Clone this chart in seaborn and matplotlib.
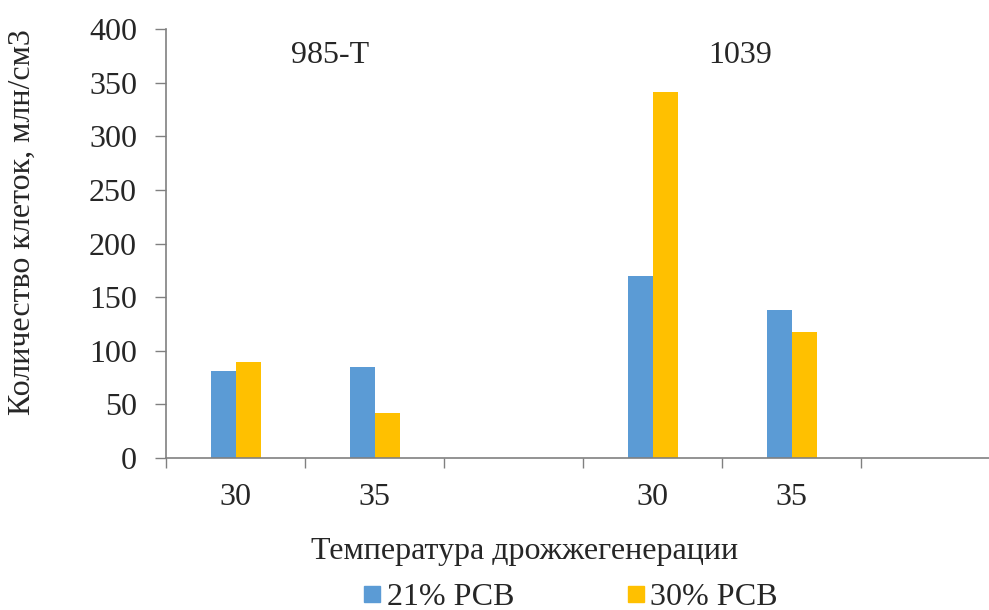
import numpy as np
import pandas as pd
import matplotlib
matplotlib.use("Agg")
import matplotlib.pyplot as plt
import seaborn as sns
from matplotlib.lines import Line2D

strains = ["985-T", "985-T", "1039", "1039"]
temps = ["30", "35", "30", "35"]
rsv21 = [81, 85, 170, 138]
rsv30 = [90, 42, 341, 118]
series = ["21% РСВ", "30% РСВ"]
colors = ["#5B9BD5", "#FFC000"]

# long table for seaborn
rows = []
for s, t, a, b in zip(strains, temps, rsv21, rsv30):
    rows.append({"slot": s + " " + t, "rsv": series[0], "val": a})
    rows.append({"slot": s + " " + t, "rsv": series[1], "val": b})
df = pd.DataFrame(rows)

order = ["985-T 30", "985-T 35", "985-T _", "1039 30", "1039 35", "1039 _"]
tick_labels = ["30", "35", "", "30", "35", ""]

sns.set_style("white")
plt.rcParams["font.family"] = ["Liberation Serif", "DejaVu Serif"]
fs = 23

fig = plt.figure(figsize=(9.89, 6.10), dpi=100)
ax = fig.add_axes([0.168, 0.249, 0.832, 0.7035])

sns.barplot(data=df, x="slot", y="val", hue="rsv", order=order,
            hue_order=series, palette=colors, saturation=1, width=0.36,
            gap=0, linewidth=0, ax=ax, legend=False)

ax.set_yticks(range(0, 401, 50))
ax.tick_params(axis="y", labelsize=fs, length=8, width=1, color="#808080",
               direction="out", left=True, pad=13)
ax.set_xticks(range(6))
ax.set_xticklabels(tick_labels, fontsize=fs)
ax.tick_params(axis="x", which="major", length=0, pad=18)
ax.set_xticks(np.arange(-0.5, 4.6, 1), minor=True)
ax.tick_params(axis="x", which="minor", length=7, width=1, color="#808080",
               direction="out", bottom=True)
ax.set_xlim(-0.5, 5.42)
ax.set_ylim(0, 400)

for side in ["top", "right"]:
    ax.spines[side].set_visible(False)
for side in ["left", "bottom"]:
    ax.spines[side].set_color("#808080")
    ax.spines[side].set_linewidth(1.2)

ax.set_xlabel("Температура дрожжегенерации", fontsize=fs)
ax.xaxis.set_label_coords(0.436, -0.185)
ax.set_ylabel("Количество клеток, млн/см3", fontsize=fs)
ax.yaxis.set_label_coords(-0.157, 0.55)

ax.text(0.68, 375, "985-T", fontsize=fs, ha="center", va="center")
ax.text(3.63, 375, "1039", fontsize=fs, ha="center", va="center")

handles = [Line2D([], [], marker="s", linestyle="", markersize=11,
                  markerfacecolor=c, markeredgecolor=c) for c in colors]
fig.legend(handles, series, loc="center", bbox_to_anchor=(0.575, 0.021),
           ncol=2, frameon=False, fontsize=fs, handletextpad=0.05,
           columnspacing=3.4, handlelength=0.8, borderpad=0)

fig.savefig("out.png", dpi=100)
